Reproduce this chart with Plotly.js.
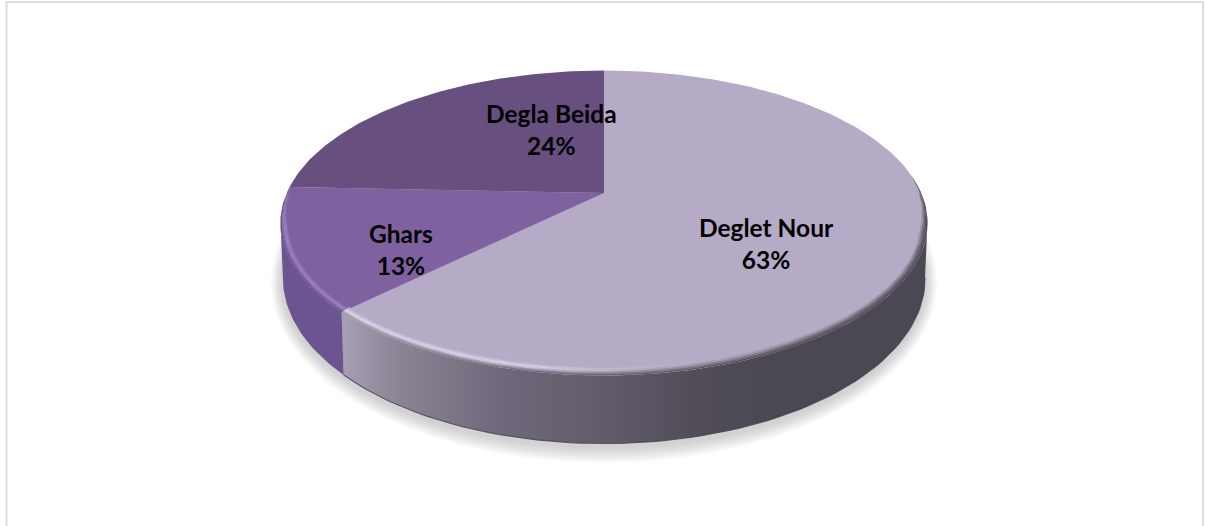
<!DOCTYPE html>
<html><head><meta charset="utf-8">
<script src="https://cdn.plot.ly/plotly-3.0.1.min.js"></script>
<style>html,body{margin:0;padding:0;background:#fff;overflow:hidden}</style>
</head><body><div id="chart" style="width:1206px;height:526px"></div>
<script>
// Data
const categories = ["Deglet Nour", "Ghars", "Degla Beida"];
const shares = [62.6, 13.0, 24.4];
const labelX = [766, 401, 551];
const labelY = [243, 249, 129];
const topColors = ["#b5abc6", "#7f61a0", "#674f80"];

// Look of the side wall and bevel
const wallStops = [[345,"#a59db2"],[400,"#8c8494"],[500,"#70687a"],[600,"#625c6b"],[700,"#514c58"],[770,"#4b4853"],[930,"#4b4853"]];
const rimX = [345, 520, 650, 800, 930];
const rimBands = [
  ["#b8aec9","#b8aec9","#b6acc7","#b5abc6","#b5abc6"],
  ["#c4bcd4","#c9c1d8","#bcb3c9","#a89fb6","#9b93a8"],
  ["#d5cde4","#dcd5ea","#b0a7ba","#918a9c","#7d7787"],
  ["#ded8ec","#c8c0d4","#9a91a3","#78717f","#645f6d"],
  ["#bdb5c8","#9b92a5","#7e7686","#5f5a66","#54505b"],
  ["#a39bae","#787080","#625c6a","#4c4852","#4b4853"]];
const gharsBands = ["#7f61a0","#8a6eae","#9a7fc0","#9a80c2","#8870ac","#6f5794"];

// Scene geometry in pixels (the axes map 1:1 to the page)
const hub = {x:604, y:193};
const top_ = {cx:604, cy:222.5, rx:323.5, ry:152.5};
const bot = {cx:604, cy:278, rx:321, ry:165};
const persp = 0.2, A = 146.4, B = 317, rimDepth = 9;

function project(deg){
  const t = deg*Math.PI/180, u = Math.sin(t), v = -Math.cos(t), w = 1-persp*v;
  return {x: hub.x+B*u/w, y: hub.y-0.5+A*v/w};
}
function norm(p){ return {c:(p.x-top_.cx)/top_.rx, s:(p.y-top_.cy)/top_.ry}; }
function range(a,b,step){ const o=[]; for(let d=a;d<b;d+=step)o.push(d); o.push(b); return o; }
function inset(deg,d){
  const n = norm(project(deg));
  const e = Math.max(0,Math.min(1,(n.s+0.3)/0.35));
  return {x:top_.cx+(top_.rx-d*e)*n.c, y:top_.cy+(top_.ry-d*e)*n.s};
}
function lower(deg){
  const n = norm(project(deg));
  return {x:bot.cx+bot.rx*n.c, y:bot.cy+bot.ry*n.s};
}
const traces = [];
function poly(pts,extra){
  traces.push(Object.assign({type:"scatter",mode:"lines",x:pts.map(p=>p.x),y:pts.map(p=>p.y),
    fill:"toself",line:{width:0},hoverinfo:"skip",showlegend:false},extra));
}

// Angles from the shares, clockwise from 12 o'clock
const total = shares.reduce((a,b)=>a+b,0);
const bounds = [0]; shares.forEach((v,i)=>bounds.push(bounds[i]+v/total*360));
// Right silhouette: where the circle crosses the ellipse's horizontal axis
let rightDeg = 0; range(0,180,0.5).forEach(d=>{ if(norm(project(d)).s<=0) rightDeg=d; });
let leftDeg = 360; range(180,360,0.5).forEach(d=>{ if(norm(project(d)).s>=0) leftDeg=d; });
let rimDeg = 0; range(0,180,0.5).forEach(d=>{ if(norm(project(d)).s<=-0.3) rimDeg=d; });

// Soft shadow under the disc
[16,14,12,10,8,6,4,2].forEach(g=>{
  const pts = range(0,360,3).map(d=>{const t=d*Math.PI/180;
    return {x:bot.cx+(bot.rx+g*0.75)*Math.cos(t), y:bot.cy+4+(bot.ry+g)*Math.sin(t)};});
  poly(pts,{fillcolor:"rgba(90,90,90,0.035)"});
});

// Side walls
const wallDeglet = range(rightDeg,bounds[1],1.5);
const wallGhars = range(bounds[1],leftDeg,1);
const gradWall = {type:"horizontal",start:345,stop:930,
  colorscale:wallStops.map(s=>[(s[0]-345)/585,s[1]])};
poly(wallDeglet.map(project).concat(wallDeglet.slice().reverse().map(lower)),{fillgradient:gradWall,fillcolor:"#4b4853"});
poly(wallGhars.map(project).concat(wallGhars.slice().reverse().map(lower)),{fillcolor:"#6c5491"});
// Dark foot line of the wall
const foot = range(rightDeg,bounds[1],1.5).map(lower);
traces.push({type:"scatter",mode:"lines",x:foot.map(p=>p.x),y:foot.map(p=>p.y),
  line:{width:1.2,color:"rgba(70,64,80,0.8)"},hoverinfo:"skip",showlegend:false});

// Top slices
shares.forEach((v,i)=>{
  const arc = range(bounds[i],bounds[i+1],1).map(project);
  poly([{x:hub.x,y:hub.y}].concat(arc),{fillcolor:topColors[i]});
});

// Bevel bands
const nb = rimBands.length;
const slices = [range(rimDeg,bounds[1],1.5), range(bounds[1],bounds[2],1)];
rimBands.forEach((cols,b)=>{
  const d0 = rimDepth*(1-b/nb), d1 = rimDepth*(1-(b+1)/nb);
  const mk = (list)=> list.map(d=>inset(d,d0)).concat(list.slice().reverse().map(d=>inset(d,d1)));
  poly(mk(slices[0]),{fillcolor:cols[4],fillgradient:{type:"horizontal",start:345,stop:930,
    colorscale:rimX.map((x,k)=>[(x-345)/585,cols[k]])}});
  poly(mk(slices[1]),{fillcolor:gharsBands[b]});
});

const labels = categories.map((c,i)=>({
  x:labelX[i], y:labelY[i], xref:"x", yref:"y", showarrow:false,
  text:c+"<br>"+Math.round(shares[i])+"%", align:"center",
  font:{family:"Lato, 'Open Sans', sans-serif", size:24.5, color:"#000", weight:700}
}));

Plotly.newPlot("chart",traces,{
  width:1206,height:526,margin:{l:0,r:0,t:0,b:0,pad:0},
  paper_bgcolor:"#fff",plot_bgcolor:"#fff",showlegend:false,hovermode:false,
  xaxis:{range:[0,1206],visible:false,fixedrange:true},
  yaxis:{range:[526,0],visible:false,fixedrange:true},
  annotations:labels,
  shapes:[{type:"rect",xref:"x",yref:"y",x0:6.5,x1:1203,y0:2,y1:540,line:{color:"#dcdcdc",width:2},layer:"below"}]
},{staticPlot:true,displayModeBar:false});
</script></body></html>
